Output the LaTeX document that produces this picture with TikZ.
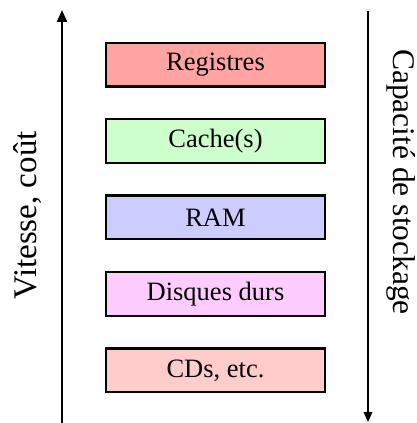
\documentclass[tikz,border=0pt]{standalone}
\usepackage{fontspec}
\setmainfont{Liberation Serif}
\usetikzlibrary{arrows.meta}
\definecolor{cReg}{HTML}{FFA3A3}
\definecolor{cCache}{HTML}{CCFFCC}
\definecolor{cRam}{HTML}{CCCCFF}
\definecolor{cDisk}{HTML}{FFCCFF}
\definecolor{cCd}{HTML}{FFCCCC}
\tikzset{
  membox/.style={draw=black, line width=2.2pt, minimum width=219pt, minimum height=43.8pt, inner sep=0pt, font=\fontsize{26.5}{30}\selectfont},
  sidelabel/.style={inner sep=0pt, font=\fontsize{33}{36}\selectfont},
}
\begin{document}
\begin{tikzpicture}[x=1pt,y=1pt]
\useasboundingbox (0,0) rectangle (417,423);
\node[membox, fill=cReg] (reg) at (215.5,358.3) {Registres};
\node[membox, fill=cCache] (cache) at (215.5,282.0) {Cache(s)};
\node[membox, fill=cRam] (ram) at (215.5,205.5) {RAM};
\node[membox, fill=cDisk] (disk) at (215.5,128.8) {Disques durs};
\node[membox, fill=cCd] (cd) at (215.5,52.5) {CDs, etc.};
\coordinate (lbot) at (62,0);
\coordinate (ltop) at (62,413);
\coordinate (rtop) at (368,412);
\coordinate (rbot) at (368,1);
\draw[line width=2.2pt, -{Triangle[length=12pt,width=10pt]}] (lbot) -- (ltop);
\draw[line width=1.8pt, -{Triangle[length=10pt,width=8.5pt]}] (rtop) -- (rbot);
\node[sidelabel, rotate=90, anchor=base] (speed) at (36,207.5) {Vitesse, coût};
\node[sidelabel, rotate=-90, anchor=base, font=\fontsize{31.5}{35}\selectfont] (cap) at (393,241) {Capacité de stockage};
\end{tikzpicture}
\end{document}
